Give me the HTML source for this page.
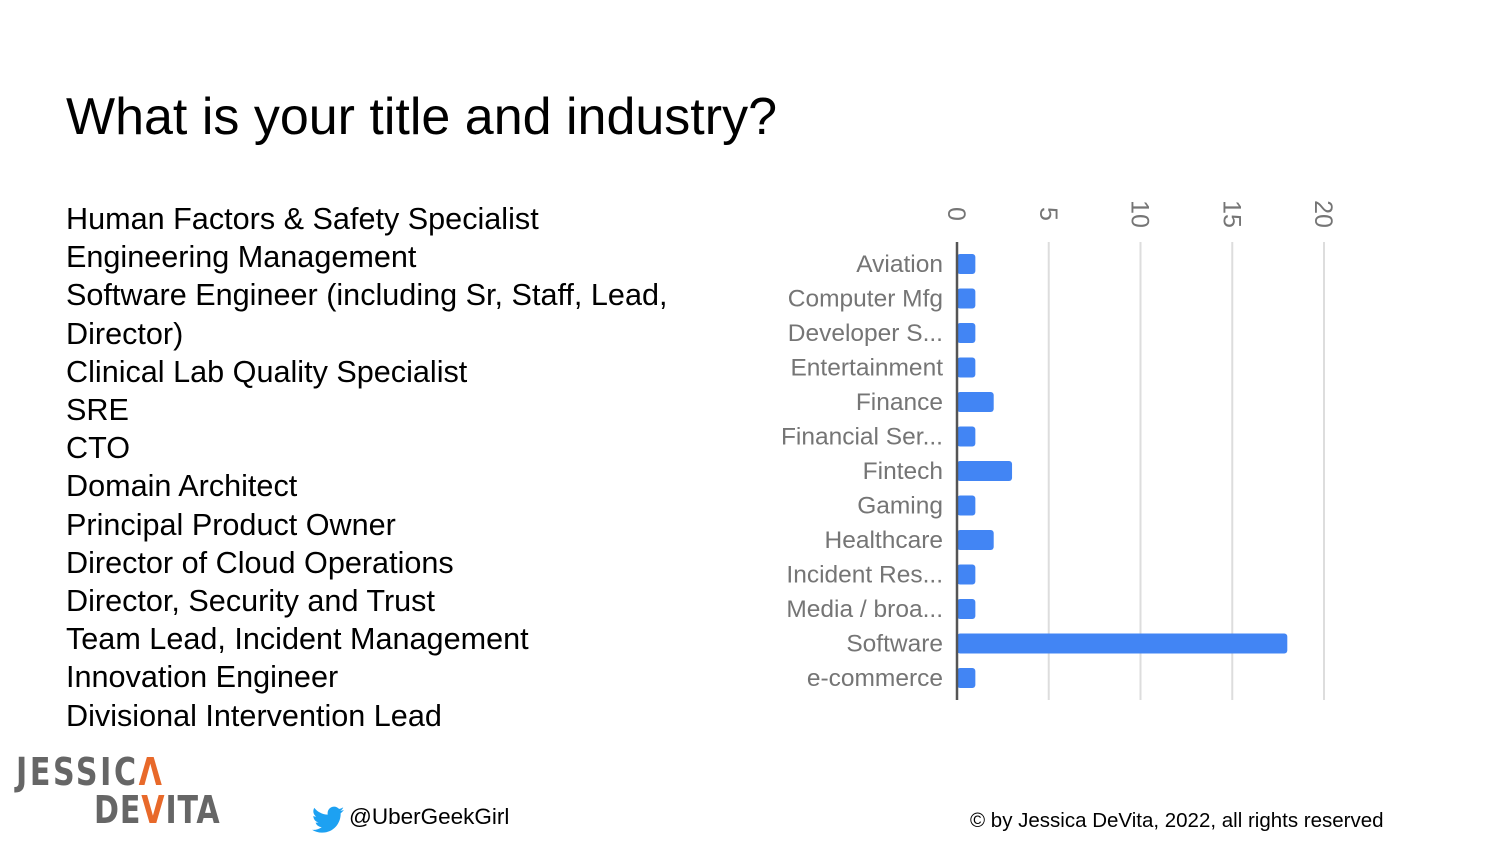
<!DOCTYPE html>
<html><head><meta charset="utf-8"><style>
body{margin:0;width:1500px;height:844px;background:#fff;position:relative;overflow:hidden;font-family:"Liberation Sans",Arial,sans-serif}
.t{position:absolute;left:66px;top:87px;font-size:52px;color:#000;white-space:nowrap}
.list{position:absolute;left:66px;top:200px;font-size:30.6px;line-height:38.2px;color:#000;white-space:nowrap}
.logo{position:absolute;font-family:"DejaVu Sans Condensed","Liberation Sans Narrow",sans-serif;font-weight:bold;color:#666;font-size:38px;transform:scaleX(0.88);transform-origin:left top}
</style></head><body>
<div class="t">What is your title and industry?</div>
<div class="list">Human Factors &amp; Safety Specialist<br>Engineering Management<br>Software Engineer (including Sr, Staff, Lead,<br>Director)<br>Clinical Lab Quality Specialist<br>SRE<br>CTO<br>Domain Architect<br>Principal Product Owner<br>Director of Cloud Operations<br>Director, Security and Trust<br>Team Lead, Incident Management<br>Innovation Engineer<br>Divisional Intervention Lead</div>
<svg id="chart" width="1500" height="844" style="position:absolute;left:0;top:0"></svg>
<div class="logo" style="left:16px;top:750px;letter-spacing:3px">JESSIC<span style="color:#e8692a">Λ</span></div>
<div class="logo" style="left:94px;top:788px;letter-spacing:1px">DE<span style="color:#e8692a">V</span>ITA</div>
<svg style="position:absolute;left:312px;top:806px" width="32" height="28" viewBox="0 0 24 20"><path fill="#1da1f2" d="M24 2.4c-.9.4-1.8.6-2.8.8 1-.6 1.8-1.6 2.2-2.7-1 .6-2 1-3.1 1.2C19.3.7 18 0 16.6 0c-2.7 0-4.9 2.2-4.9 4.9 0 .4 0 .8.1 1.1C7.7 5.8 4.1 3.9 1.7.9c-.4.7-.7 1.6-.7 2.5 0 1.7.9 3.2 2.2 4.1-.8 0-1.6-.2-2.2-.6v.1c0 2.4 1.7 4.4 3.9 4.8-.4.1-.8.2-1.3.2-.3 0-.6 0-.9-.1.6 2 2.4 3.4 4.6 3.4-1.7 1.3-3.8 2.1-6.1 2.1-.4 0-.8 0-1.2-.1 2.2 1.4 4.8 2.2 7.5 2.2 9.1 0 14-7.5 14-14v-.6c1-.7 1.8-1.6 2.5-2.5z"/></svg>
<div style="position:absolute;left:349px;top:804px;font-size:22.5px">@UberGeekGirl</div>
<div style="position:absolute;left:970px;top:809px;font-size:20.5px">© by Jessica DeVita, 2022, all rights reserved</div>
<script>
const categories=["Aviation","Computer Mfg","Developer S...","Entertainment","Finance","Financial Ser...","Fintech","Gaming","Healthcare","Incident Res...","Media / broa...","Software","e-commerce"];
const values=[1,1,1,1,2,1,3,1,2,1,1,18,1];
const ticks=[0,5,10,15,20];
const NS="http://www.w3.org/2000/svg";
const svg=document.getElementById("chart");
const x0=957,ppu=18.35,y0=264,step=34.5;
const xs=v=>x0+v*ppu, ys=i=>y0+i*step;
function mk(t,a){const e=document.createElementNS(NS,t);for(const k in a)e.setAttribute(k,a[k]);svg.appendChild(e);return e;}
ticks.forEach(t=>{
  if(t>0){const g=mk("line",{x1:xs(t),x2:xs(t),y1:242,y2:700,stroke:"#ddd","stroke-width":2});
  
  }
  const tx=mk("text",{x:0,y:0,transform:`translate(${xs(t)-9},214) rotate(90)`,"font-size":25,fill:"#757575","text-anchor":"middle","font-family":"Liberation Sans, sans-serif"});
  tx.textContent=t;
  
  
});
categories.forEach((c,i)=>{
  const b=mk("rect",{x:x0,y:ys(i)-10,width:xs(values[i])-x0,height:20,rx:3,fill:"#4285f4"});
  
  
  const l=mk("text",{x:943,y:ys(i)+8,"font-size":24.5,fill:"#757575","text-anchor":"end","font-family":"Liberation Sans, sans-serif"});
  l.textContent=c;
  
  
});
const ax=mk("line",{x1:x0,x2:x0,y1:242,y2:700,stroke:"#555","stroke-width":2.5});


</script>
</body></html>
